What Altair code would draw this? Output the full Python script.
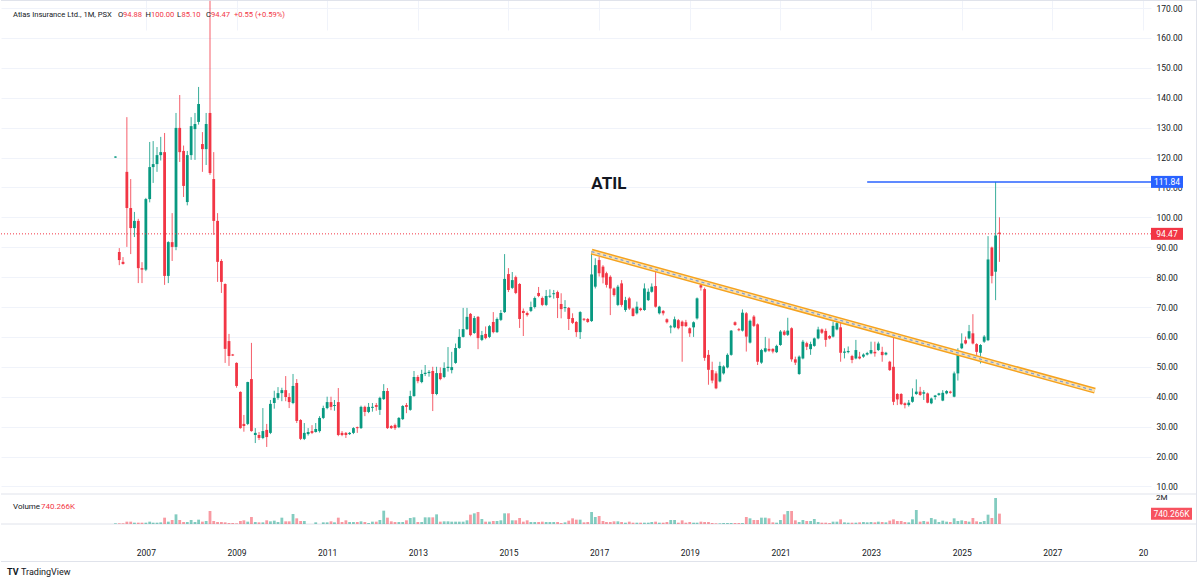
import altair as alt
import numpy as np
import pandas as pd

# ---------------- data (monthly candles) ----------------
FIRST_MONTH = "2006-05-01"

opens = [
    120.0, 88.4, 85.1, 115.2, 103.1, 96.4, 98.8, 83.0, 82.5, 106.1,
    116.8, 117.8, 120.8, 121.8, 80.4, 91.7, 90.1, 129.9, 122.2, 105.1,
    120.8, 129.5, 131.9, 124.5, 122.8, 134.9, 112.8, 98.8, 85.4, 77.7,
    58.6, 54.1, 51.3, 41.6, 30.9, 30.9, 45.9, 27.2, 27.2, 26.2,
    28.9, 27.9, 37.9, 39.6, 41.2, 42.2, 39.9, 37.9, 44.6, 32.2,
    25.9, 27.5, 28.5, 28.2, 28.5, 32.9, 36.2, 38.2, 36.9, 38.2,
    27.9, 27.9, 27.5, 27.9, 29.8, 29.5, 36.6, 34.9, 36.3, 37.2,
    35.6, 39.2, 41.9, 30.2, 30.5, 29.8, 32.5, 37.2, 35.6, 40.2,
    46.6, 44.9, 47.6, 47.9, 48.6, 40.9, 47.9, 46.6, 49.6, 48.9,
    51.3, 56.3, 60.0, 62.6, 67.7, 61.3, 66.7, 59.0, 61.0, 60.0,
    65.0, 61.6, 65.7, 68.3, 81.0, 76.4, 80.0, 77.7, 68.7, 68.0,
    68.7, 70.0, 74.7, 73.0, 70.7, 73.5, 74.3, 75.0, 71.0, 69.7,
    69.7, 66.3, 65.0, 61.6, 66.0, 66.0, 65.3, 76.8, 85.7, 83.5,
    81.3, 80.1, 76.2, 70.7, 77.9, 69.0, 72.9, 69.5, 67.9, 69.5,
    69.0, 72.3, 75.1, 77.0, 67.9, 68.7, 65.9, 63.2, 63.2, 65.6,
    65.1, 64.9, 62.9, 63.2, 66.2, 77.3, 76.0, 54.0, 48.9, 47.8,
    45.1, 47.8, 49.8, 54.0, 64.9, 62.5, 62.1, 67.9, 58.1, 66.8,
    64.2, 51.4, 55.1, 56.0, 56.0, 54.9, 57.3, 61.8, 60.7, 62.9,
    52.5, 47.6, 52.8, 57.9, 55.9, 57.0, 59.5, 62.5, 62.0, 60.3,
    60.1, 62.5, 63.2, 54.7, 54.9, 53.6, 52.8, 53.4, 53.4, 54.1,
    54.5, 55.0, 55.6, 55.0, 54.1, 51.7, 50.0, 40.9, 40.9, 37.8,
    37.2, 38.3, 40.9, 41.7, 41.0, 41.1, 37.8, 39.9, 40.6, 38.7,
    41.1, 41.7, 40.0, 47.8, 56.2, 58.9, 59.5, 61.2, 57.6, 54.7,
    58.4, 58.9, 89.9, 81.8, 94.88,
]
highs = [
    120.4, 89.7, 86.7, 133.5, 112.8, 101.8, 99.5, 85.0, 106.5, 125.2,
    125.5, 123.5, 126.9, 128.2, 92.0, 101.4, 134.9, 140.9, 124.0, 122.2,
    133.5, 134.9, 143.6, 128.5, 134.9, 172.4, 121.8, 101.4, 86.0, 77.9,
    61.0, 54.3, 51.5, 41.8, 33.9, 45.0, 58.0, 29.5, 28.2, 36.2,
    30.9, 38.9, 42.0, 43.2, 43.0, 46.9, 41.2, 47.6, 45.9, 32.5,
    31.2, 29.5, 30.5, 31.2, 33.5, 37.0, 40.0, 40.0, 38.9, 42.9,
    28.5, 28.2, 28.2, 29.8, 30.0, 37.0, 37.0, 37.9, 37.9, 37.9,
    40.0, 44.2, 42.9, 30.5, 31.0, 33.2, 37.2, 37.9, 42.0, 48.6,
    47.2, 49.0, 50.6, 48.9, 50.0, 50.0, 49.8, 51.5, 56.6, 55.0,
    57.8, 62.6, 69.7, 69.7, 68.0, 67.0, 67.0, 62.0, 63.5, 64.0,
    68.3, 66.5, 69.0, 87.7, 83.0, 81.7, 80.5, 78.0, 69.5, 68.5,
    71.8, 73.5, 76.7, 73.5, 75.7, 75.9, 75.7, 75.5, 74.6, 72.3,
    70.0, 67.9, 65.3, 68.6, 66.3, 66.3, 88.5, 86.3, 86.8, 84.0,
    81.8, 80.6, 76.5, 77.4, 79.0, 73.4, 73.4, 69.8, 71.8, 69.8,
    77.9, 76.2, 77.9, 81.8, 70.4, 69.0, 66.2, 64.0, 66.8, 66.0,
    65.5, 65.7, 63.2, 65.2, 73.2, 78.6, 76.5, 55.6, 51.7, 48.5,
    51.7, 50.5, 54.5, 62.3, 65.2, 63.0, 69.2, 68.3, 65.8, 67.3,
    64.5, 56.0, 60.0, 59.5, 56.2, 57.4, 62.3, 62.3, 66.4, 63.2,
    53.4, 53.8, 59.0, 58.4, 58.4, 59.8, 63.4, 62.8, 62.8, 60.6,
    65.1, 65.9, 65.9, 56.2, 56.8, 54.0, 59.0, 55.0, 54.5, 55.0,
    58.4, 58.4, 58.4, 56.7, 55.0, 52.0, 61.2, 41.2, 41.2, 38.1,
    38.9, 42.8, 45.8, 43.3, 42.2, 41.4, 39.7, 40.6, 41.3, 42.2,
    42.2, 42.0, 48.4, 56.2, 61.2, 60.1, 64.0, 67.6, 57.9, 57.6,
    60.6, 93.7, 90.2, 111.84, 100.0,
]
lows = [
    119.9, 84.0, 84.2, 90.1, 87.7, 93.4, 78.0, 78.0, 82.0, 105.0,
    111.5, 115.2, 119.0, 77.4, 78.0, 85.4, 89.0, 118.5, 106.8, 104.0,
    119.2, 119.2, 131.0, 115.2, 117.5, 114.2, 94.1, 78.4, 74.7, 51.3,
    50.3, 53.6, 43.0, 29.3, 28.3, 30.5, 28.3, 24.5, 25.5, 25.8,
    23.2, 27.5, 36.0, 39.0, 38.5, 38.5, 36.2, 37.5, 31.2, 25.5,
    25.5, 27.0, 27.5, 28.0, 28.0, 32.5, 35.8, 35.5, 35.3, 26.8,
    26.8, 26.2, 27.2, 27.5, 27.9, 29.2, 33.5, 34.5, 35.0, 35.3,
    33.9, 38.9, 29.2, 29.2, 28.9, 29.5, 32.2, 34.5, 35.3, 40.0,
    44.5, 44.5, 46.9, 46.7, 35.2, 40.5, 45.5, 46.2, 48.4, 47.8,
    51.0, 56.0, 59.8, 62.3, 60.2, 61.0, 55.9, 58.6, 59.2, 59.6,
    61.2, 61.3, 65.3, 68.0, 75.0, 76.0, 74.3, 63.0, 60.3, 66.8,
    68.3, 69.5, 73.3, 70.3, 70.3, 73.0, 72.8, 66.3, 66.2, 68.4,
    62.3, 64.3, 60.0, 59.3, 65.3, 64.7, 65.0, 76.2, 80.2, 77.9,
    76.5, 67.3, 73.5, 70.3, 70.1, 68.4, 69.0, 66.8, 67.5, 68.6,
    68.7, 72.0, 74.8, 69.8, 67.5, 67.2, 64.5, 61.2, 62.9, 62.5,
    51.7, 63.3, 60.0, 60.0, 65.8, 75.5, 52.0, 44.0, 44.5, 42.5,
    44.8, 47.4, 49.5, 53.7, 63.7, 61.9, 61.8, 55.1, 57.8, 63.3,
    50.6, 51.0, 54.8, 55.0, 54.5, 54.6, 57.0, 60.4, 60.3, 51.7,
    50.6, 47.3, 52.5, 55.6, 54.0, 56.7, 59.2, 61.0, 56.7, 59.2,
    59.8, 62.2, 51.7, 52.8, 54.5, 51.2, 52.5, 52.5, 53.0, 53.8,
    54.2, 53.4, 55.3, 51.7, 53.8, 48.6, 37.2, 37.2, 37.2, 36.1,
    36.7, 38.0, 40.6, 40.3, 38.9, 37.8, 37.5, 39.0, 40.3, 38.5,
    40.8, 41.0, 39.8, 45.4, 55.9, 57.5, 59.2, 57.5, 52.3, 51.1,
    58.0, 58.6, 77.9, 72.3, 85.1,
]
closes = [
    120.3, 85.7, 84.4, 103.1, 96.4, 98.8, 83.0, 82.5, 106.1, 116.8,
    117.8, 120.8, 121.8, 80.4, 91.7, 90.1, 129.9, 121.8, 110.5, 120.8,
    130.5, 131.2, 137.9, 122.8, 131.2, 114.8, 98.8, 85.1, 78.4, 56.0,
    53.6, 53.8, 43.6, 29.5, 30.2, 44.9, 28.5, 27.9, 26.2, 28.5,
    26.5, 37.6, 39.6, 41.2, 42.2, 39.9, 38.2, 43.6, 31.9, 25.9,
    27.9, 28.2, 27.9, 29.2, 32.9, 36.2, 38.2, 36.6, 37.2, 27.2,
    27.2, 27.2, 27.9, 29.5, 29.5, 36.6, 34.9, 36.6, 36.6, 36.6,
    39.6, 41.9, 29.5, 29.5, 29.5, 32.9, 36.9, 36.6, 40.2, 46.6,
    45.2, 47.6, 48.0, 48.3, 40.9, 47.9, 45.9, 49.6, 50.0, 49.9,
    56.3, 60.0, 62.6, 66.7, 60.6, 66.3, 59.6, 60.6, 59.6, 63.6,
    61.6, 66.0, 68.0, 79.4, 75.7, 79.0, 74.7, 66.0, 68.0, 67.3,
    70.0, 73.0, 73.7, 70.7, 73.7, 73.7, 74.6, 73.0, 69.3, 69.9,
    66.0, 64.7, 61.6, 68.3, 65.8, 65.0, 80.9, 84.0, 81.3, 79.9,
    77.4, 76.2, 74.0, 76.8, 70.7, 72.3, 69.5, 67.0, 70.1, 69.0,
    76.2, 75.1, 76.8, 70.1, 70.1, 67.9, 64.9, 63.5, 65.9, 62.9,
    63.6, 63.6, 61.2, 64.9, 72.9, 76.5, 53.0, 49.0, 45.4, 42.8,
    50.3, 50.1, 54.0, 62.1, 64.0, 62.3, 68.1, 60.1, 65.4, 63.7,
    51.7, 55.6, 56.2, 55.4, 55.1, 57.0, 61.8, 60.7, 62.1, 52.5,
    51.4, 53.4, 58.4, 56.7, 57.6, 59.5, 62.5, 61.4, 59.0, 59.5,
    63.7, 64.6, 54.7, 55.1, 55.3, 52.3, 55.6, 52.8, 54.1, 54.6,
    55.6, 54.5, 57.8, 53.9, 54.7, 48.9, 38.3, 39.1, 37.5, 37.2,
    38.0, 40.0, 41.7, 40.6, 41.5, 38.0, 39.4, 40.4, 41.1, 41.3,
    41.9, 41.3, 47.8, 55.0, 57.8, 57.8, 61.9, 57.8, 55.0, 57.3,
    60.1, 85.9, 80.4, 93.92, 94.47,
]
volumes_k = [
    48, 48, 48, 167, 167, 95, 95, 95, 95, 167,
    95, 95, 119, 452, 167, 286, 690, 286, 143, 143,
    286, 143, 310, 167, 214, 929, 214, 143, 143, 119,
    71, 71, 48, 214, 262, 167, 500, 143, 119, 119,
    262, 190, 238, 143, 452, 190, 190, 714, 405, 214,
    214, 0, 0, 119, 0, 119, 119, 190, 119, 452,
    143, 262, 143, 143, 143, 190, 143, 71, 167, 167,
    286, 952, 452, 190, 143, 143, 143, 262, 429, 476,
    143, 143, 476, 476, 476, 690, 167, 190, 190, 167,
    167, 167, 167, 262, 667, 762, 857, 357, 167, 167,
    214, 214, 262, 762, 762, 262, 262, 429, 167, 262,
    143, 143, 143, 167, 143, 143, 143, 143, 71, 119,
    238, 405, 310, 310, 119, 143, 857, 500, 571, 214,
    143, 143, 190, 190, 143, 95, 167, 95, 95, 95,
    95, 95, 143, 167, 95, 95, 143, 286, 286, 95,
    262, 95, 143, 95, 95, 167, 143, 143, 71, 48,
    48, 71, 71, 71, 71, 71, 71, 500, 405, 286,
    286, 452, 452, 405, 119, 95, 286, 690, 929, 929,
    262, 143, 286, 214, 214, 357, 143, 95, 95, 71,
    167, 167, 333, 119, 95, 95, 95, 119, 143, 119,
    143, 119, 167, 143, 119, 238, 333, 214, 214, 143,
    119, 333, 1000, 167, 214, 167, 429, 333, 143, 238,
    167, 143, 405, 214, 262, 214, 167, 429, 190, 143,
    214, 667, 429, 1857, 740.266,
]

TICKER = "ATIL"
HEADER_NAME = "Atlas Insurance Ltd., 1M, PSX"
trend_dates = ["2016-11-01", "2027-12-10"]
trend_values = [88.5, 42.0]
ticker_label_date = "2017-03-20"
ticker_label_price = 111.1
high_level = 111.84
high_level_start = "2022-12-01"
year_ticks = list(range(2007, 2030, 2))
price_ticks = list(range(10, 171, 10))

# ---------------- styling ----------------
FONT = "Roboto"
UP = "#089981"
DOWN = "#f23645"
BLUE = "#2962ff"
TEXT = "#131722"
GRID = "#f0f3fa"
BORDER = "#e0e3eb"
W = 1150          # pane width
PRICE_BOTTOM = 494
VOL_BOTTOM = 524
FRAME_RIGHT = 1196
FRAME_BOTTOM = 561.5
HEADER_SIZE = 7.6

# ---------------- frame ----------------
n = len(closes)
dates = pd.date_range(FIRST_MONTH, periods=n, freq="MS")
o = np.array(opens, dtype=float)
c = np.array(closes, dtype=float)
h = np.maximum(np.array(highs, dtype=float), np.maximum(o, c))
l = np.minimum(np.array(lows, dtype=float), np.minimum(o, c))
lo = np.minimum(o, c)
hi = np.maximum(o, c)
mid = (lo + hi) / 2
thin = (hi - lo) < 0.34
lo = np.where(thin, mid - 0.17, lo)
hi = np.where(thin, mid + 0.17, hi)

candles = pd.DataFrame({
    "date": dates, "open": o, "high": h, "low": l, "close": c,
    "body_lo": lo, "body_hi": hi,
    "dir": np.where(c >= o, "up", "down"),
    "volume": np.array(volumes_k, dtype=float) * 1000,
})

X_SCALE = alt.Scale(domain=[alt.DateTime(year=2003, month=12, date=1),
                            alt.DateTime(year=2029, month=1, date=25)])
X_AXIS = alt.Axis(
    values=[alt.DateTime(year=y, month=1, date=1) for y in year_ticks],
    labelExpr="year(datum.value) == 2029 ? '20' : timeFormat(datum.value, '%Y')",
    grid=True, gridColor=GRID, domain=False, ticks=False,
    labelPadding=24, labelFontSize=8.5, labelColor=TEXT, labelFont=FONT,
    labelFlush=False, labelOverlap=False, title=None,
)
PRICE_SCALE = alt.Scale(domain=[7.46, 172.68], range=[PRICE_BOTTOM, 0], nice=False, zero=False)
VOL_SCALE = alt.Scale(domain=[0, 2142857], range=[VOL_BOTTOM, PRICE_BOTTOM], nice=False, zero=False)
PRICE_AXIS = alt.Axis(
    orient="right", values=price_ticks, format=".2f",
    grid=True, gridColor=GRID, domain=False, ticks=False,
    labelPadding=5, labelFontSize=8.5, labelColor=TEXT, labelFont=FONT,
    labelFlush=False, labelOverlap=False, title=None,
)


def xenc(field):
    return alt.X(f"{field}:T", scale=X_SCALE, axis=X_AXIS)


def yprice(field, axis=None):
    return alt.Y(f"{field}:Q", scale=PRICE_SCALE, axis=axis)


color = alt.Color("dir:N", scale=alt.Scale(domain=["up", "down"], range=[UP, DOWN]), legend=None)
one = pd.DataFrame({"k": [0]})

wicks = alt.Chart(candles).mark_rule(strokeWidth=1, opacity=0.8).encode(
    x=xenc("date"), y=yprice("low"), y2="high:Q", color=color)
bodies = alt.Chart(candles).mark_bar(size=2.8).encode(
    x=xenc("date"), y=yprice("body_lo", PRICE_AXIS), y2="body_hi:Q", color=color)
volume = alt.Chart(candles).mark_bar(size=2.8, opacity=0.5).encode(
    x=xenc("date"),
    y=alt.Y("volume:Q", scale=VOL_SCALE, axis=None, stack=None),
    color=color)

trend = pd.DataFrame({"date": pd.to_datetime(trend_dates), "price": trend_values})
trend_outer = alt.Chart(trend).mark_line(color="#f5a21e", strokeWidth=6, strokeCap="butt").encode(
    x=xenc("date"), y=yprice("price"))
trend_inner = alt.Chart(trend).mark_line(color="#fde2ad", strokeWidth=3, strokeCap="butt").encode(
    x=xenc("date"), y=yprice("price"))
trend_dash = alt.Chart(trend).mark_line(color="#7f9fd8", strokeWidth=1.3, strokeDash=[3, 3]).encode(
    x=xenc("date"), y=yprice("price"))

hl = pd.DataFrame({"start": [pd.Timestamp(high_level_start)], "price": [high_level]})
high_line = alt.Chart(hl).mark_rule(color=BLUE, strokeWidth=1.5).encode(
    x=xenc("start"), x2=alt.value(W), y=yprice("price"))

last_df = pd.DataFrame({"price": [closes[-1]]})
last_line = alt.Chart(last_df).mark_rule(color=DOWN, strokeWidth=1, strokeDash=[1, 2]).encode(
    x=alt.value(0), x2=alt.value(W), y=yprice("price"))

boxes = pd.DataFrame({
    "price": [high_level, closes[-1]],
    "label": [f"{high_level:.2f}", f"{closes[-1]:.2f}"],
    "fill": [BLUE, DOWN],
})
box_rect = alt.Chart(boxes).mark_rect(yOffset=-6, y2Offset=6).encode(
    x=alt.value(W), x2=alt.value(W + 32), y=yprice("price"), y2="price:Q",
    color=alt.Color("fill:N", scale=None))
box_text = alt.Chart(boxes).mark_text(color="white", fontSize=8.5, align="center", baseline="middle").encode(
    x=alt.value(W + 16), y=yprice("price"), text="label:N")

vlabel = f"{volumes_k[-1]:.3f}K"
vbox = pd.DataFrame({"volume": [volumes_k[-1] * 1000], "label": [vlabel]})
vbox_rect = alt.Chart(vbox).mark_rect(yOffset=-6, y2Offset=6, color="#f7525f").encode(
    x=alt.value(W), x2=alt.value(W + 41),
    y=alt.Y("volume:Q", scale=VOL_SCALE, axis=None), y2="volume:Q")
vbox_text = alt.Chart(vbox).mark_text(color="white", fontSize=8.5, align="center", baseline="middle").encode(
    x=alt.value(W + 20.5), y=alt.Y("volume:Q", scale=VOL_SCALE, axis=None), text="label:N")

ticker_df = pd.DataFrame({"date": [pd.Timestamp(ticker_label_date)], "price": [ticker_label_price], "label": [TICKER]})
ticker_text = alt.Chart(ticker_df).mark_text(fontSize=17, fontWeight="bold", color=TEXT, font=FONT).encode(
    x=xenc("date"), y=yprice("price"), text="label:N")


def label(txt, x, y, col=TEXT, size=HEADER_SIZE, weight="normal", align="left"):
    return alt.Chart(one).mark_text(text=txt, color=col, fontSize=size, fontWeight=weight,
                                    align=align, baseline="middle", font=FONT).encode(
        x=alt.value(x), y=alt.value(y))


chg = closes[-1] - closes[-2]
pct = chg / closes[-2] * 100
header = [
    label(HEADER_NAME, 12, 15),
    label("O", 117, 15), label(f"{opens[-1]:.2f}", 122, 15, DOWN),
    label("H", 144.5, 15), label(f"{highs[-1]:.2f}", 150, 15, DOWN),
    label("L", 176, 15), label(f"{lows[-1]:.2f}", 180.5, 15, DOWN),
    label("C", 205, 15), label(f"{closes[-1]:.2f}", 210, 15, DOWN),
    label(f"{chg:+.2f} ({pct:+.2f}%)", 233, 15, DOWN),
    label("Volume", 12, 507, size=8),
    label(vlabel, 40, 507, DOWN, size=8),
    label("2M", W + 5, 498, size=8),
    label("TV", 6, 572, TEXT, 9, "bold"),
    label("TradingView", 20, 572, TEXT, 9),
]


def hrule(y, x0=0, x1=FRAME_RIGHT):
    return alt.Chart(one).mark_rule(color=BORDER, strokeWidth=1).encode(
        x=alt.value(x0), x2=alt.value(x1), y=alt.value(y))


def vrule(x, y0=0.5, y1=FRAME_BOTTOM):
    return alt.Chart(one).mark_rule(color=BORDER, strokeWidth=1).encode(
        x=alt.value(x), y=alt.value(y0), y2=alt.value(y1))


frame = [hrule(0.5), hrule(PRICE_BOTTOM), hrule(VOL_BOTTOM), hrule(FRAME_BOTTOM), vrule(FRAME_RIGHT - 0.5)]

chart = alt.layer(
    *frame,
    volume, wicks, bodies,
    trend_outer, trend_inner, trend_dash,
    high_line, last_line,
    box_rect, box_text, vbox_rect, vbox_text,
    ticker_text,
    *header,
).resolve_scale(y="independent").properties(
    width=W, height=VOL_BOTTOM,
    padding={"left": 0, "top": 0, "right": 2, "bottom": 2},
    background="white",
).configure(font=FONT).configure_view(strokeWidth=0)

chart.save("out.html", embed_options={"renderer": "svg", "actions": False})
